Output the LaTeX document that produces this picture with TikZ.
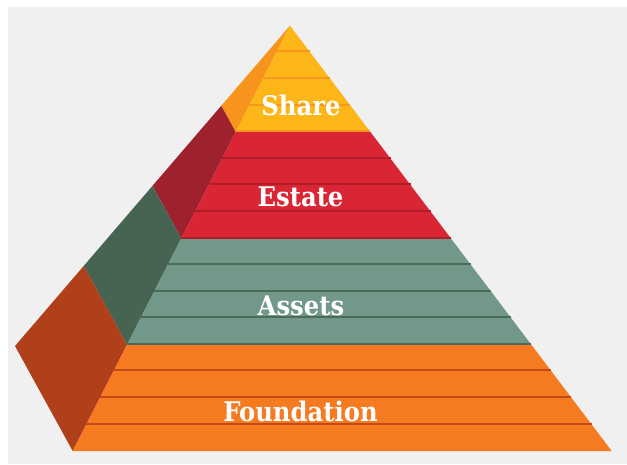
\documentclass[tikz,border=0pt]{standalone}
\usepackage{fontspec}
\usetikzlibrary{calc}
\newfontfamily\labelfont{DejaVu Serif Condensed}
\definecolor{bgc}{RGB}{240,240,240}
\definecolor{shareF}{RGB}{253,182,24}
\definecolor{shareS}{RGB}{246,148,30}
\definecolor{shareL}{RGB}{246,152,30}
\definecolor{estateF}{RGB}{218,37,52}
\definecolor{estateS}{RGB}{157,34,46}
\definecolor{estateL}{RGB}{176,30,44}
\definecolor{assetsF}{RGB}{114,152,138}
\definecolor{assetsS}{RGB}{71,99,82}
\definecolor{assetsL}{RGB}{76,106,88}
\definecolor{foundF}{RGB}{245,122,32}
\definecolor{foundS}{RGB}{175,64,26}
\definecolor{foundL}{RGB}{194,74,24}
\tikzset{
  lbl/.style={text=white, anchor=base, inner sep=0pt, font=\labelfont\bfseries\fontsize{27}{29}\selectfont},
  stripe/.style={line width=2pt}
}
\begin{document}
\begin{tikzpicture}[x=1pt,y=-1pt]
\useasboundingbox (0,0) rectangle (627,464);
\fill[white] (0,0) rectangle (627,464);
\fill[bgc] (8,7) rectangle (627,464);
\coordinate (A) at (290,25.7);
\coordinate (FL) at (72.7,451);
\coordinate (FR) at (611.7,451);
\coordinate (B) at (15,346);
\foreach \i/\fc/\sc in {0/shareF/shareS,1/estateF/estateS,2/assetsF/assetsS,3/foundF/foundS}{
  \pgfmathsetmacro\ta{\i/4}
  \pgfmathsetmacro\tb{(\i+1)/4}
  \fill[\sc] ($(A)!\ta!(B)$) -- ($(A)!\tb!(B)$) -- ($(A)!\tb!(FL)$) -- ($(A)!\ta!(FL)$) -- cycle;
  \fill[\fc] ($(A)!\ta!(FL)$) -- ($(A)!\ta!(FR)$) -- ($(A)!\tb!(FR)$) -- ($(A)!\tb!(FL)$) -- cycle;
}
\foreach \k/\lc in {1/shareL,2/shareL,3/shareL,4/shareL,5/estateL,6/estateL,7/estateL,8/estateL,9/assetsL,10/assetsL,11/assetsL,12/assetsL,13/foundL,14/foundL,15/foundL}{
  \pgfmathsetmacro\tk{\k/16}
  \draw[stripe,\lc] ($(A)!\tk!(FL)+(0,-0.8)$) -- ($(A)!\tk!(FR)+(0,-0.8)$);
}
\node[lbl] (share) at (301,115.7) {Share};
\node[lbl] (estate) at (300.5,206.7) {Estate};
\node[lbl] (assets) at (301,315.7) {Assets};
\node[lbl] (found) at (300.5,421.7) {Foundation};
\end{tikzpicture}
\end{document}
